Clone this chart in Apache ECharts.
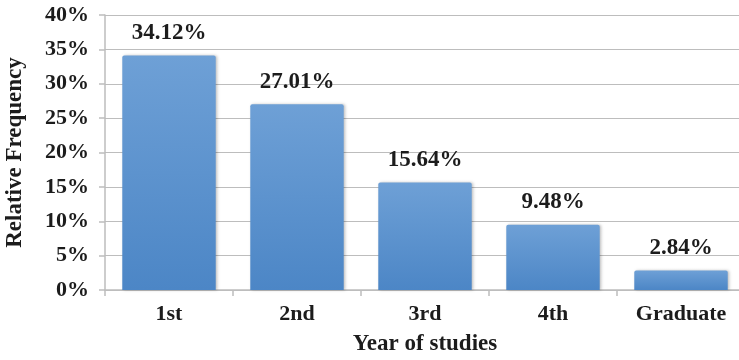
<!DOCTYPE html>
<html>
<head>
<meta charset="utf-8">
<style>
  html, body { margin: 0; padding: 0; background: #ffffff; }
  #chart { width: 739px; height: 360px; }
</style>
<script src="https://cdn.jsdelivr.net/npm/echarts@6/dist/echarts.min.js"></script>
</head>
<body>
<div id="chart"></div>
<script>
// Share of respondents by year of studies
const categories = ['1st', '2nd', '3rd', '4th', 'Graduate'];
const shares = [34.12, 27.01, 15.64, 9.48, 2.84];
const yTicks = [0, 5, 10, 15, 20, 25, 30, 35, 40];

const serif = '"Liberation Serif", "Times New Roman", serif';
const axisGrey = '#bdbdbd';
const textColor = '#1c1c1c';

const chart = echarts.init(document.getElementById('chart'), null, { renderer: 'canvas' });

chart.setOption({
  animation: false,
  backgroundColor: '#ffffff',
  grid: {
    left: 105, right: -6, top: 15, bottom: 70,
    containLabel: false,
    outerBoundsMode: 'none'
  },
  xAxis: {
    type: 'category',
    data: categories,
    name: 'Year of studies',
    nameLocation: 'middle',
    nameGap: 43,
    nameTextStyle: { fontFamily: serif, fontWeight: 'bold', fontSize: 23, color: textColor },
    axisLine: { lineStyle: { color: axisGrey, width: 1.5 } },
    axisTick: { show: true, length: 6, lineStyle: { color: axisGrey, width: 1.5 } },
    axisLabel: { fontFamily: serif, fontWeight: 'bold', fontSize: 22, color: textColor, margin: 13 }
  },
  yAxis: {
    type: 'value',
    min: yTicks[0],
    max: yTicks[yTicks.length - 1],
    interval: 5,
    name: 'Relative Frequency',
    nameLocation: 'middle',
    nameGap: 78,
    nameRotate: 90,
    nameTextStyle: { fontFamily: serif, fontWeight: 'bold', fontSize: 23, color: textColor },
    axisLine: { show: true, lineStyle: { color: axisGrey, width: 1.5 } },
    axisTick: { show: true, length: 6, lineStyle: { color: axisGrey, width: 1.5 } },
    splitLine: { lineStyle: { color: axisGrey, width: 1.2 } },
    axisLabel: {
      fontFamily: serif, fontWeight: 'bold', fontSize: 22, color: textColor, margin: 16,
      formatter: v => v + '%'
    }
  },
  series: [{
    type: 'bar',
    data: shares,
    barCategoryGap: '27%',
    itemStyle: {
      borderRadius: [2, 2, 0, 0],
      color: new echarts.graphic.LinearGradient(0, 0, 0, 1, [
        { offset: 0, color: '#6ea0d6' },
        { offset: 1, color: '#4c86c6' }
      ]),
      shadowColor: 'rgba(0,0,0,0.25)',
      shadowBlur: 3,
      shadowOffsetX: 1.5,
      shadowOffsetY: 0
    },
    label: {
      show: true,
      position: 'top',
      distance: 11,
      fontFamily: serif,
      fontWeight: 'bold',
      fontSize: 23,
      color: textColor,
      formatter: p => p.value.toFixed(2) + '%'
    }
  }]
});
</script>
</body>
</html>
